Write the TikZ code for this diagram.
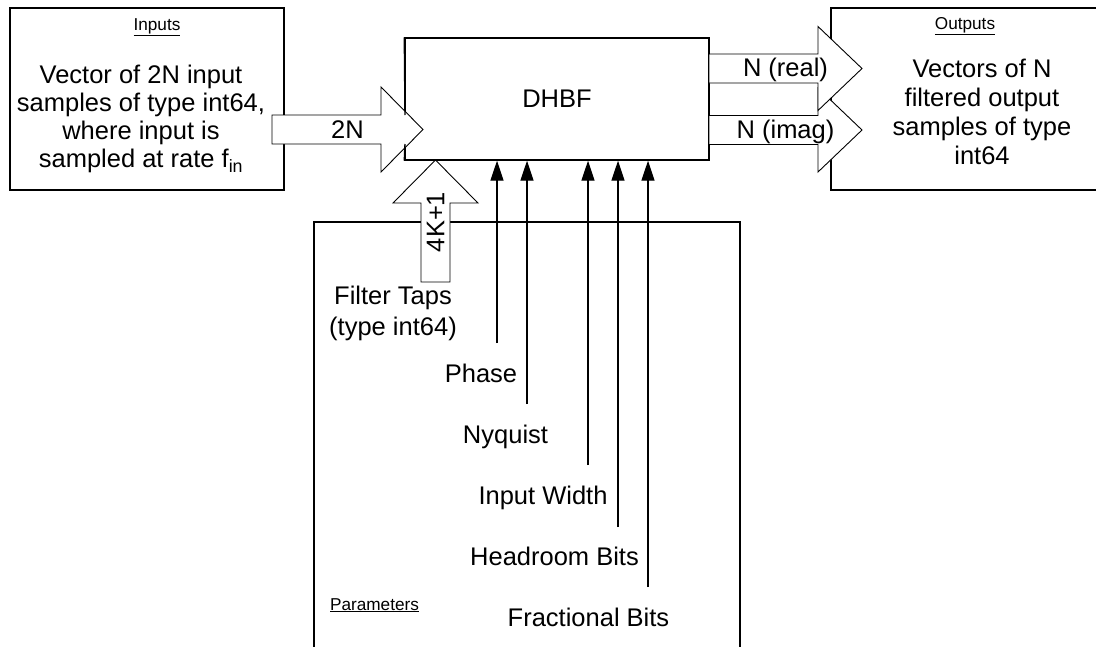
\documentclass[tikz,border=0pt]{standalone}
\usepackage{fontspec}
\setmainfont{Liberation Sans}
\usetikzlibrary{arrows.meta}
\newcommand\mylines[1]{\begin{tabular}[t]{@{}c@{}}#1\end{tabular}}
\begin{document}
\begin{tikzpicture}[x=1pt,y=-1pt,
  box/.style={draw, line width=1.4pt, inner sep=0pt},
  edge/.style={line width=1.4pt},
  blockarrow/.style={draw, fill=white, line width=0.9pt, line join=miter},
  big/.style={font=\fontsize{25.5}{28.3}\selectfont, inner sep=0pt},
  small/.style={font=\fontsize{17.2}{20}\selectfont, inner sep=0pt},
  param/.style={line width=1.3pt, -{Triangle[length=20pt,width=13pt]}},
]
\path[use as bounding box] (0,0) rectangle (1096,646);
\clip (0,0) rectangle (1096,646);

% boxes
\node[box, minimum width=274pt, minimum height=182pt] (inbox) at (147,99) {};
\node[box, minimum width=304pt, minimum height=122pt] (dhbf) at (557,99) {};
\node[box, minimum width=302pt, minimum height=182pt] (outbox) at (982,99) {};
\node[box, minimum width=426pt, minimum height=460pt] (parbox) at (527,452) {};

% box texts
\node[small, anchor=base] (inlbl) at (157,30) {\underline{Inputs}};
\node[big, anchor=base] (intext) at (141,83) {\mylines{Vector of 2N input\\samples of type int64,\\where input is\\sampled at rate f\textsubscript{in}}};
\node[small, anchor=base] (outlbl) at (965,29) {\underline{Outputs}};
\node[big, font=\fontsize{25.5}{29.3}\selectfont, anchor=base] (outtext) at (982,77) {\mylines{Vectors of N\\filtered output\\samples of type\\int64}};
\node[big, anchor=base] (dhbflbl) at (557,107) {DHBF};
\node[small, anchor=base] (parlbl) at (374.5,610) {\underline{Parameters}};

% block arrows
\draw[blockarrow] (272,115) -- (381,115) -- (381,87) -- (423,129.5) -- (381,172) -- (381,144) -- (272,144) -- cycle;
\draw[edge] (dhbf.north west) -- (405,115);
\draw[edge] (405,144) -- (dhbf.south west);
\node[big, anchor=base] (lbl2n) at (347.5,138) {2N};

\draw[blockarrow] (709,115.5) -- (818,115.5) -- (818,88) -- (862,130) -- (818,172) -- (818,144.5) -- (709,144.5) -- cycle;
\draw[blockarrow] (709,54) -- (818,54) -- (818,26.5) -- (862,68.5) -- (818,110.5) -- (818,83) -- (709,83) -- cycle;
\node[big, anchor=base] (lblreal) at (785.5,76) {N (real)};
\node[big, anchor=base] (lblimag) at (785.5,138) {N (imag)};

\draw[blockarrow] (421,282) -- (421,203) -- (393,203) -- (435.5,160) -- (478,203) -- (450,203) -- (450,282) -- cycle;
\node[big, rotate=90] (lbl4k) at (435.5,222) {4K+1};
\node[big, font=\fontsize{25.5}{31}\selectfont, anchor=base] (taps) at (393,304) {\mylines{Filter Taps\\(type int64)}};

% parameter inputs
\coordinate (pphase) at (497,343);
\coordinate (pnyq) at (527,404);
\coordinate (pwidth) at (588,465);
\coordinate (phead) at (618,527);
\coordinate (pfrac) at (648,587);
\draw[param] (pphase) -- (pphase |- dhbf.south);
\draw[param] (pnyq) -- (pnyq |- dhbf.south);
\draw[param] (pwidth) -- (pwidth |- dhbf.south);
\draw[param] (phead) -- (phead |- dhbf.south);
\draw[param] (pfrac) -- (pfrac |- dhbf.south);

\node[big, anchor=base] (lphase) at (481,382) {Phase};
\node[big, anchor=base] (lnyq) at (505.5,443) {Nyquist};
\node[big, anchor=base] (lwidth) at (543,504) {Input Width};
\node[big, anchor=base] (lhead) at (554.5,565) {Headroom Bits};
\node[big, anchor=base] (lfrac) at (588.5,626) {Fractional Bits};
\end{tikzpicture}
\end{document}
